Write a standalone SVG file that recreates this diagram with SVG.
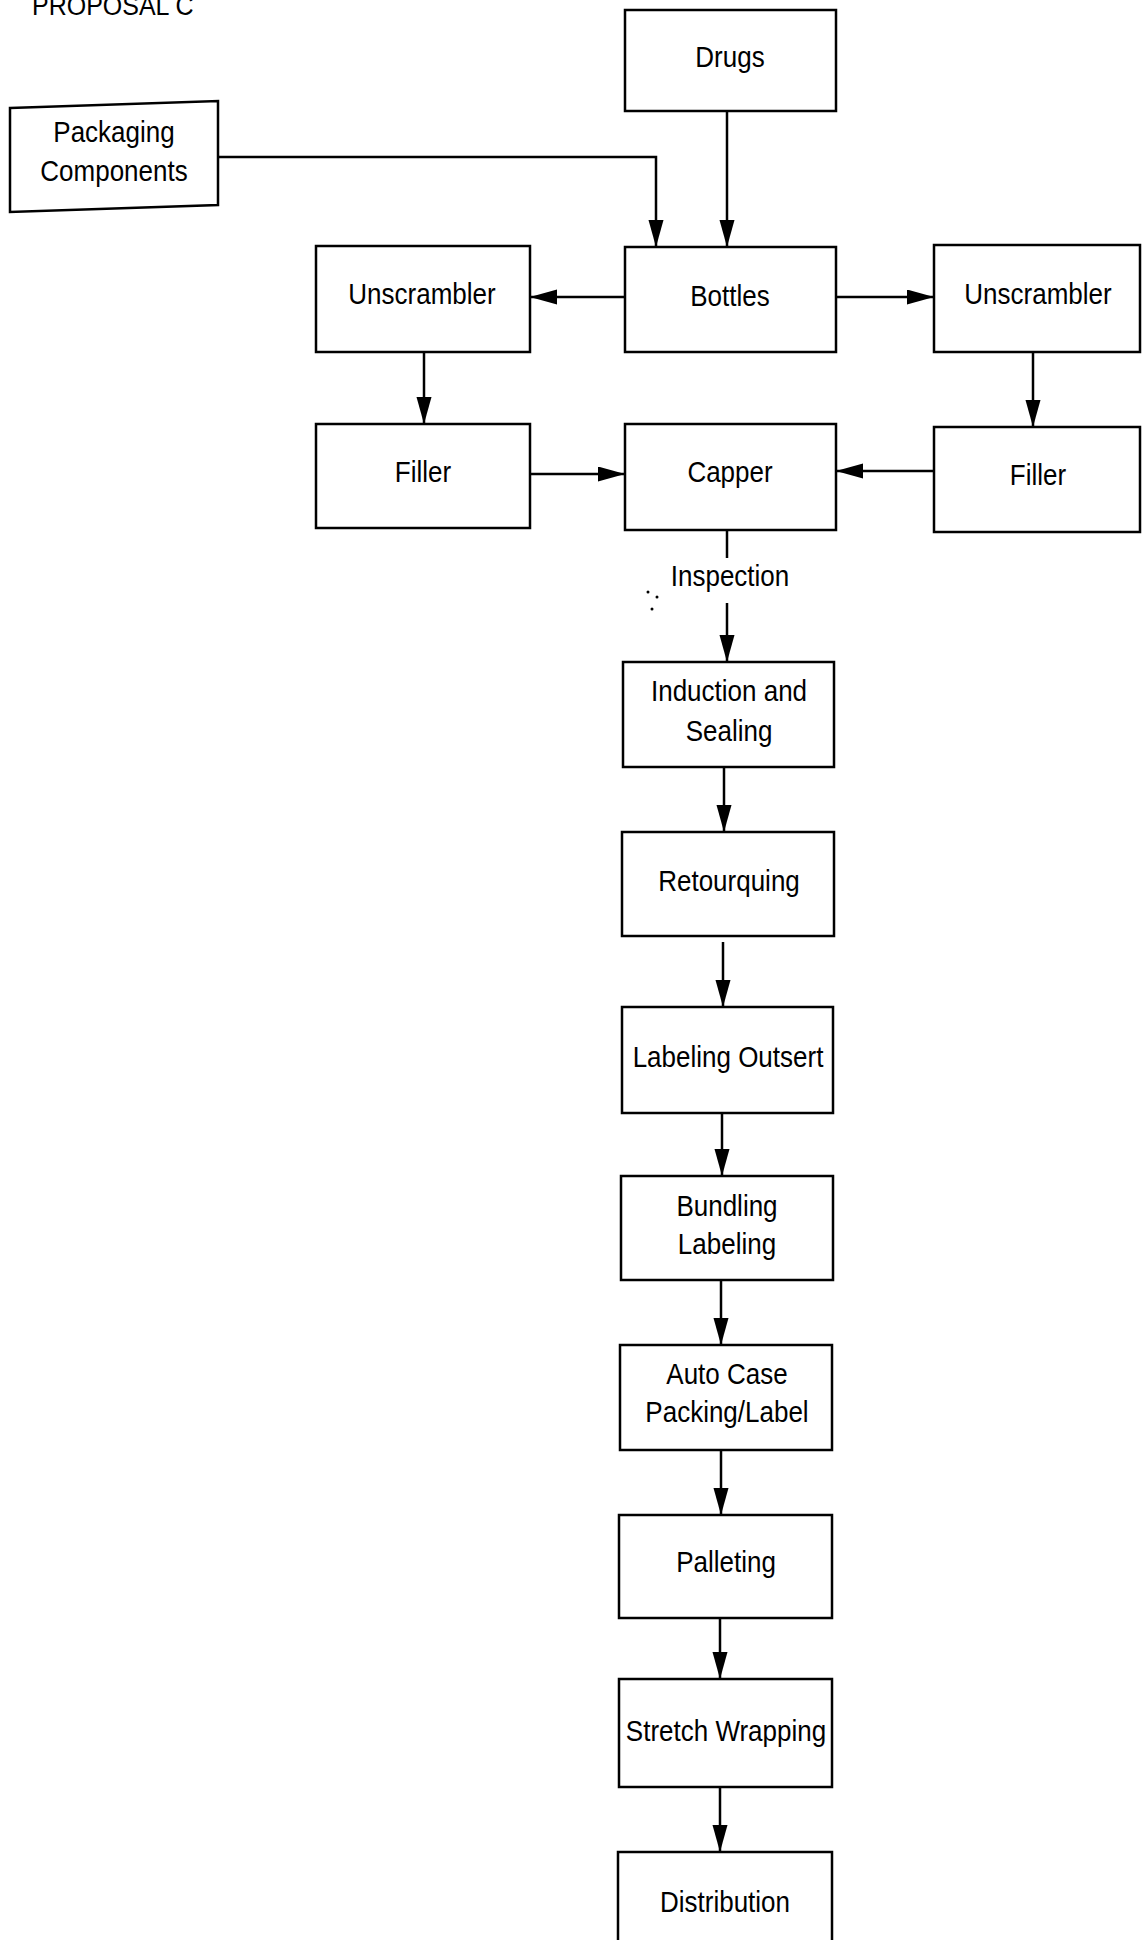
<svg xmlns="http://www.w3.org/2000/svg" width="1142" height="1940" viewBox="0 0 1142 1940">
<style>
.box{fill:#fff;stroke:#000;stroke-width:2.5}
.t{font-family:"Liberation Sans",Arial,sans-serif;font-size:26px;fill:#000;text-anchor:middle}
.c{fill:none;stroke:#000;stroke-width:2.5}
</style>
<defs>
<marker id="ah" markerUnits="userSpaceOnUse" markerWidth="28" markerHeight="16" refX="27" refY="7.5" orient="auto">
<path d="M0,0 L27,7.5 L0,15 z" fill="#000"/>
</marker>
</defs>
<rect width="1142" height="1940" fill="#fff"/>
<text transform="translate(32,15) scale(1,1.12)" font-family="Liberation Sans,Arial,sans-serif" font-size="25" fill="#000">PROPOSAL C</text>

<g id="connectors">
<path class="c" d="M218,157 H656 V247" marker-end="url(#ah)"/>
<path class="c" d="M727,111 V247" marker-end="url(#ah)"/>
<path class="c" d="M625,297 H530" marker-end="url(#ah)"/>
<path class="c" d="M836,297 H934" marker-end="url(#ah)"/>
<path class="c" d="M424,352 V424" marker-end="url(#ah)"/>
<path class="c" d="M1033,352 V427" marker-end="url(#ah)"/>
<path class="c" d="M530,474 H625" marker-end="url(#ah)"/>
<path class="c" d="M934,471 H836" marker-end="url(#ah)"/>
<path class="c" d="M727,530 V558"/>
<path class="c" d="M727,603 V662" marker-end="url(#ah)"/>
<path class="c" d="M724,767 V832" marker-end="url(#ah)"/>
<path class="c" d="M723,942 V1007" marker-end="url(#ah)"/>
<path class="c" d="M722,1113 V1176" marker-end="url(#ah)"/>
<path class="c" d="M721,1280 V1345" marker-end="url(#ah)"/>
<path class="c" d="M721,1450 V1515" marker-end="url(#ah)"/>
<path class="c" d="M720,1618 V1679" marker-end="url(#ah)"/>
<path class="c" d="M720,1787 V1852" marker-end="url(#ah)"/>
<text class="t" transform="translate(730,586) scale(1,1.12)">Inspection</text>
<circle cx="648" cy="592" r="1.5" fill="#000"/>
<circle cx="657" cy="597" r="1.5" fill="#000"/>
<circle cx="652" cy="609" r="1.5" fill="#000"/>
</g>

<g id="packaging">
<polygon class="box" points="10,108 218,101 218,205 10,212"/>
<text class="t" transform="translate(114,142) scale(1,1.12)">Packaging</text>
<text class="t" transform="translate(114,181) scale(1,1.12)">Components</text>
</g>
<g id="drugs">
<rect class="box" x="625" y="10" width="211" height="101"/>
<text class="t" transform="translate(730,67) scale(1,1.12)">Drugs</text>
</g>
<g id="bottles">
<rect class="box" x="625" y="247" width="211" height="105"/>
<text class="t" transform="translate(730,306) scale(1,1.12)">Bottles</text>
</g>
<g id="unscrambler-left">
<rect class="box" x="316" y="246" width="214" height="106"/>
<text class="t" transform="translate(422,304) scale(1,1.12)">Unscrambler</text>
</g>
<g id="unscrambler-right">
<rect class="box" x="934" y="245" width="206" height="107"/>
<text class="t" transform="translate(1038,304) scale(1,1.12)">Unscrambler</text>
</g>
<g id="filler-left">
<rect class="box" x="316" y="424" width="214" height="104"/>
<text class="t" transform="translate(423,482) scale(1,1.12)">Filler</text>
</g>
<g id="capper">
<rect class="box" x="625" y="424" width="211" height="106"/>
<text class="t" transform="translate(730,482) scale(1,1.12)">Capper</text>
</g>
<g id="filler-right">
<rect class="box" x="934" y="427" width="206" height="105"/>
<text class="t" transform="translate(1038,485) scale(1,1.12)">Filler</text>
</g>
<g id="induction">
<rect class="box" x="623" y="662" width="211" height="105"/>
<text class="t" transform="translate(729,701) scale(1,1.12)">Induction and</text>
<text class="t" transform="translate(729,741) scale(1,1.12)">Sealing</text>
</g>
<g id="retourquing">
<rect class="box" x="622" y="832" width="212" height="104"/>
<text class="t" transform="translate(729,891) scale(1,1.12)">Retourquing</text>
</g>
<g id="labeling-outsert">
<rect class="box" x="622" y="1007" width="211" height="106"/>
<text class="t" transform="translate(728,1067) scale(1,1.12)">Labeling Outsert</text>
</g>
<g id="bundling">
<rect class="box" x="621" y="1176" width="212" height="104"/>
<text class="t" transform="translate(727,1216) scale(1,1.12)">Bundling</text>
<text class="t" transform="translate(727,1254) scale(1,1.12)">Labeling</text>
</g>
<g id="auto-case">
<rect class="box" x="620" y="1345" width="212" height="105"/>
<text class="t" transform="translate(727,1384) scale(1,1.12)">Auto Case</text>
<text class="t" transform="translate(727,1422) scale(1,1.12)">Packing/Label</text>
</g>
<g id="palleting">
<rect class="box" x="619" y="1515" width="213" height="103"/>
<text class="t" transform="translate(726,1572) scale(1,1.12)">Palleting</text>
</g>
<g id="stretch">
<rect class="box" x="619" y="1679" width="213" height="108"/>
<text class="t" transform="translate(726,1741) scale(1,1.12)">Stretch Wrapping</text>
</g>
<g id="distribution">
<rect class="box" x="618" y="1852" width="214" height="110"/>
<text class="t" transform="translate(725,1912) scale(1,1.12)">Distribution</text>
</g>
</svg>
